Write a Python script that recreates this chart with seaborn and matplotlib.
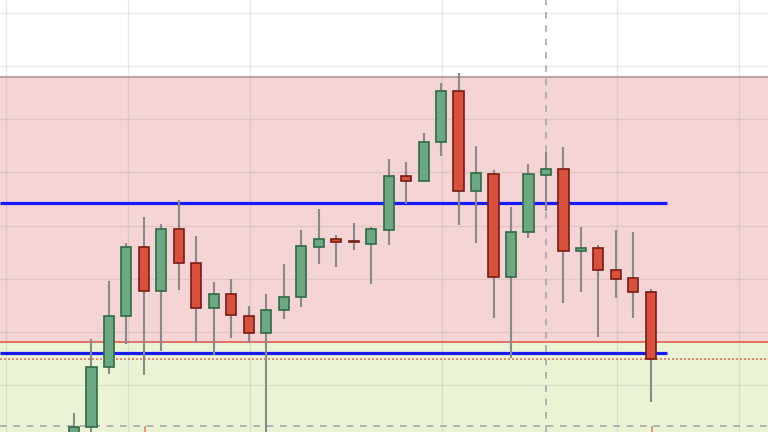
import numpy as np
import pandas as pd
import matplotlib
matplotlib.use("Agg")
import matplotlib.pyplot as plt
import seaborn as sns

# Candle data
opens = [946, 960.5, 1016.9, 1064.9, 1129.6, 1088.4, 1146.5, 1115.1, 1072.7, 1085.9,
         1064.9, 1049.2, 1070.6, 1082.5, 1130.1, 1137.4, 1135.5, 1132.7, 1146.1, 1196.7,
         1192.2, 1228.9, 1276.9, 1182.8, 1198.8, 1101.9, 1144.2, 1197.6, 1203.0, 1126.4,
         1128.6, 1108.2, 1100.7, 1087.2]
closes = [960.5, 1016.9, 1064.9, 1129.6, 1088.4, 1146.5, 1115.1, 1072.7, 1085.9, 1065.9,
          1049.2, 1070.6, 1082.8, 1130.8, 1137.4, 1134.8, 1134.1, 1146.5, 1196.7, 1191.9,
          1228.9, 1276.9, 1182.8, 1199.8, 1101.9, 1144.2, 1198.8, 1203.0, 1126.4, 1128.6,
          1108.5, 1099.5, 1087.2, 1024.7]
highs = [973.7, 1043.3, 1097.6, 1133.3, 1157.8, 1151.2, 1174.1, 1140.2, 1096.6, 1099.7,
         1074.0, 1085.3, 1114.1, 1145.6, 1165.6, 1140.9, 1152.4, 1148.9, 1212.6, 1210.1,
         1237.1, 1283.9, 1293.3, 1224.9, 1202.3, 1167.8, 1207.9, 1219.2, 1223.6, 1148.9,
         1132.0, 1145.8, 1144.2, 1090.0]
lows = [940, 945, 1010.1, 1038.9, 1009.1, 1032.3, 1089.4, 1039.2, 1028.2, 1044.5,
        1039.2, 945, 1062.4, 1073.4, 1113.8, 1111.3, 1127.0, 1094.7, 1131.7, 1170.3,
        1192.2, 1215.2, 1150.5, 1133.9, 1063.3, 1025.1, 1138.3, 1164.0, 1076.9, 1087.8,
        1044.9, 1081.6, 1063.3, 984.3]

# Levels
zone_top = 1289.8
zone_mid = 1040.5
blue_upper = 1171.2
blue_lower = 1030.4
last_close = 1024.7
dashed_level = 961.4
cursor_idx = 27

df = pd.DataFrame({"open": opens, "high": highs, "low": lows, "close": closes})
df["idx"] = np.arange(len(df))
df["up"] = df["close"] >= df["open"]

sns.set_style("whitegrid")

fig = plt.figure(figsize=(7.68, 4.32), dpi=100)
ax = fig.add_axes([0, 0, 1, 1])

xmin, xmax = -4.23, 39.7
ymin, ymax = 955.8, 1362.2
ax.set_xlim(xmin, xmax)
ax.set_ylim(ymin, ymax)

# zones
ax.axhspan(zone_mid, zone_top, color="#f4d4d4", zorder=0.2, lw=0)
ax.axhspan(ymin, zone_mid, color="#eaf4d5", zorder=0.2, lw=0)
ax.axhline(zone_top, color="#b9a3a3", lw=1.5, zorder=0.6)
ax.axhline(zone_mid, color="#e06a5c", lw=1.3, zorder=0.6)

# grid
ax.set_axisbelow(True)
ax.set_xticks([-3.9, 3.1, 10.07, 21.05, 31.06, 38.04])
ax.set_yticks(np.arange(1000, 1400, 50))
ax.grid(True, color="#808080", alpha=0.16, lw=1)
ax.tick_params(left=False, bottom=False, labelleft=False, labelbottom=False)
for s in ax.spines.values():
    s.set_visible(False)

# horizontal reference lines
ax.hlines([blue_upper, blue_lower], xmin, 33.9, color="#1a1aff", lw=2.3, zorder=3)
ax.axhline(last_close, color="#e8705f", lw=1.2, ls=(0, (1.2, 1.2)), zorder=3)
ax.axhline(dashed_level, color="#a8a8a8", lw=1.2, ls=(0, (4, 4)), zorder=3)
ax.axvline(cursor_idx, color="#a8a8a8", lw=1.2, ls=(0, (4, 4)), zorder=3)
ax.vlines([4.06, 33.07], ymin, dashed_level, color="#e8806f", lw=1.2, zorder=3)

# candles
ax.vlines(df["idx"], df["low"], df["high"], color="#8a8a8a", lw=1.5, zorder=4)
body_w = 0.58
for up, color, edge in [(True, "#6ba883", "#2f6b45"), (False, "#d9503f", "#7a1c14")]:
    sub = df[df["up"] == up]
    bottoms = np.minimum(sub["open"], sub["close"])
    heights = np.maximum(np.abs(sub["close"] - sub["open"]), 1.2)
    ax.bar(sub["idx"], heights, bottom=bottoms, width=body_w, color=color,
           edgecolor=edge, linewidth=1.2, zorder=5)

fig.savefig("out.png", dpi=100)
